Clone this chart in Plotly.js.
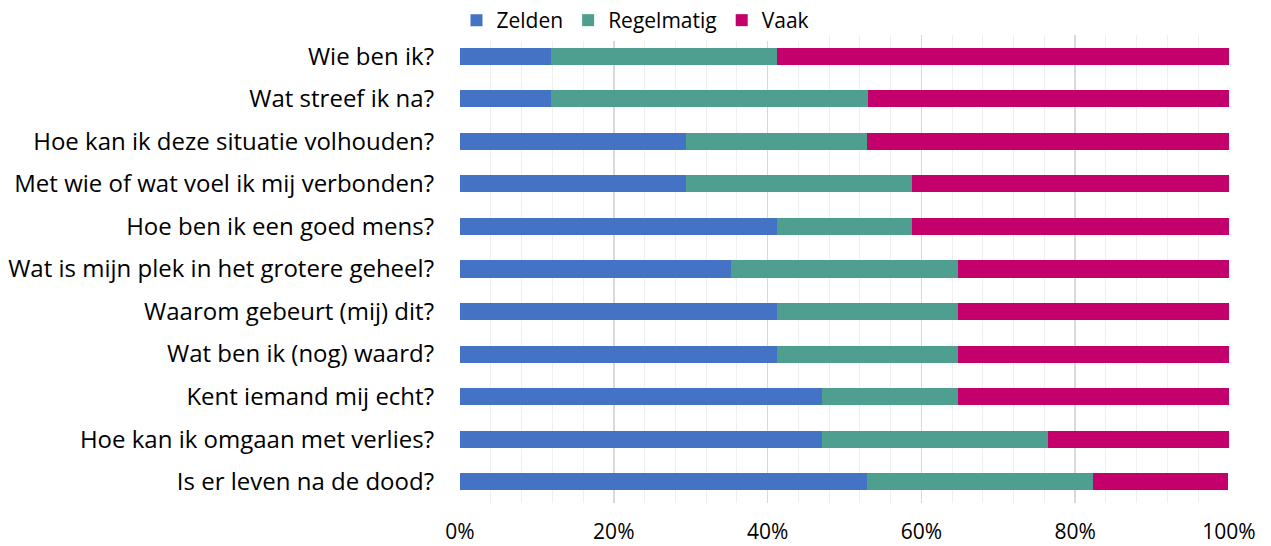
<!DOCTYPE html>
<html>
<head>
<meta charset="utf-8">
<script src="https://cdn.plot.ly/plotly-3.0.1.min.js"></script>
<style>html,body{margin:0;padding:0;background:#fff;}#chart{width:1271px;height:546px;}</style>
</head>
<body>
<div id="chart"></div>
<script>
const categories = [
  "Wie ben ik?",
  "Wat streef ik na?",
  "Hoe kan ik deze situatie volhouden?",
  "Met wie of wat voel ik mij verbonden?",
  "Hoe ben ik een goed mens?",
  "Wat is mijn plek in het grotere geheel?",
  "Waarom gebeurt (mij) dit?",
  "Wat ben ik (nog) waard?",
  "Kent iemand mij echt?",
  "Hoe kan ik omgaan met verlies?",
  "Is er leven na de dood?"
];
const zelden     = [11.8, 11.8, 29.4, 29.4, 41.2, 35.3, 41.2, 41.2, 47.1, 47.1, 52.9];
const regelmatig = [29.4, 41.2, 23.5, 29.4, 17.6, 29.4, 23.5, 23.5, 17.6, 29.4, 29.4];
const vaak       = [58.8, 47.1, 47.1, 41.2, 41.2, 35.3, 35.3, 35.3, 35.3, 23.5, 17.6];
const seriesNames = ["Zelden", "Regelmatig", "Vaak"];
const colors = ["#4472C4", "#4E9F8F", "#C3006B"];
const xTickVals = [0, 20, 40, 60, 80, 100];
const xTickText = ["0%", "20%", "40%", "60%", "80%", "100%"];

const vals = [zelden, regelmatig, vaak];
const traces = vals.map((v, i) => ({
  type: "bar",
  orientation: "h",
  name: seriesNames[i],
  y: categories,
  x: v,
  marker: {color: colors[i], line: {width: 0}},
  hoverinfo: "x+y+name"
}));

const layout = {
  width: 1271, height: 546,
  barmode: "stack",
  bargap: 0.6,
  paper_bgcolor: "#fff", plot_bgcolor: "#fff",
  margin: {l: 460, r: 42, t: 35, b: 43, autoexpand: false},
  font: {family: "'Open Sans', sans-serif", color: "#000"},
  showlegend: true,
  legend: {
    orientation: "h", xref: "container", yref: "container",
    x: 0.5, xanchor: "center", y: 1.0, yanchor: "top",
    font: {size: 21, color: "#000"}, traceorder: "normal",
    itemwidth: 30
  },
  xaxis: {
    range: [0, 100], tickvals: xTickVals, ticktext: xTickText,
    showgrid: true, gridcolor: "#D9D9D9", gridwidth: 1.5,
    minor: {dtick: 4, showgrid: true, gridcolor: "#EFEFEF", gridwidth: 1},
    zeroline: false, showline: false,
    tickfont: {size: 21, color: "#000"},
    ticks: "", ticklabelstandoff: 14,
    fixedrange: true, automargin: false
  },
  yaxis: {
    autorange: "reversed", type: "category",
    tickfont: {size: 24, color: "#000"},
    showgrid: false, zeroline: false, showline: false,
    ticks: "", ticklabelstandoff: 25,
    fixedrange: true, automargin: false
  }
};

Plotly.newPlot("chart", traces, layout, {displayModeBar: false, staticPlot: true});
</script>
</body>
</html>
